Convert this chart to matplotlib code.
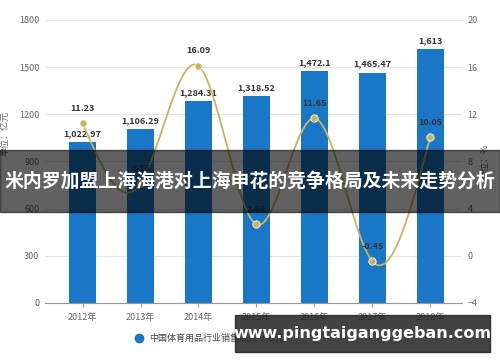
import matplotlib
matplotlib.use("Agg")
import matplotlib.pyplot as plt
import numpy as np
from matplotlib.patches import Rectangle, Circle

plt.rcParams["font.family"] = ["Noto Sans CJK SC", "DejaVu Sans"]

YEARS = ["2012年", "2013年", "2014年", "2015年", "2016年", "2017年", "2018年"]
SALES = [1022.97, 1106.29, 1284.31, 1318.52, 1472.1, 1465.47, 1613]
SALES_LABELS = ["1,022.97", "1,106.29", "1,284.31", "1,318.52", "1,472.1", "1,465.47", "1,613"]
GROWTH = [11.23, 6.15, 16.09, 2.66, 11.65, -0.45, 10.05]
LEFT_TICKS = [0, 300, 600, 900, 1200, 1500, 1800]
RIGHT_TICKS = [-4, 0, 4, 8, 12, 16, 20]
TITLE = "米内罗加盟上海海港对上海申花的竞争格局及未来走势分析"
SITE = "www.pingtaiganggeban.com"
LEGEND = "中国体育用品行业销售收入（亿元）"

BAR_COLOR = "#1a76c6"
LINE_COLOR = "#c9b45c"
GRID = "#e4e4e4"
TICK = "#666666"


def natural_spline(x, y, n=300):
    x = np.asarray(x, float)
    y = np.asarray(y, float)
    k = len(x)
    h = np.diff(x)
    a = np.zeros((k, k))
    b = np.zeros(k)
    a[0, 0] = a[-1, -1] = 1
    for i in range(1, k - 1):
        a[i, i - 1] = h[i - 1]
        a[i, i] = 2 * (h[i - 1] + h[i])
        a[i, i + 1] = h[i]
        b[i] = 3 * ((y[i + 1] - y[i]) / h[i] - (y[i] - y[i - 1]) / h[i - 1])
    c = np.linalg.solve(a, b)
    xs = np.linspace(x[0], x[-1], n)
    ys = np.empty_like(xs)
    for j, xv in enumerate(xs):
        i = min(np.searchsorted(x, xv, side="right") - 1, k - 2)
        d = xv - x[i]
        bi = (y[i + 1] - y[i]) / h[i] - h[i] * (2 * c[i] + c[i + 1]) / 3
        di = (c[i + 1] - c[i]) / (3 * h[i])
        ys[j] = y[i] + bi * d + c[i] * d ** 2 + di * d ** 3
    return xs, ys


fig = plt.figure(figsize=(5, 3.62), dpi=100)
ax = fig.add_axes([0.09, 0.163, 0.834, 0.782])
x = np.arange(len(YEARS))

ax.bar(x, SALES, width=0.47, color=BAR_COLOR, zorder=2)
for xi, v, lab in zip(x, SALES, SALES_LABELS):
    ax.text(xi, v + 25, lab, ha="center", va="bottom", fontsize=6.5,
            fontweight="bold", color="#333333", zorder=5)

ax.set_xlim(-0.65, 6.55)
ax.set_ylim(0, 1800)
ax.set_yticks(LEFT_TICKS)
ax.set_xticks(x)
ax.set_xticklabels(YEARS)
ax.tick_params(axis="both", colors=TICK, labelsize=6.5, length=0, pad=4)
ax.tick_params(axis="x", length=3, color="#999999")
ax.grid(axis="y", color=GRID, linewidth=0.8, zorder=0)
for s in ["top", "right", "left"]:
    ax.spines[s].set_visible(False)
ax.spines["bottom"].set_color("#999999")
ax.set_ylabel("单位：亿元", fontsize=6.5, color=TICK, labelpad=2)
ax.yaxis.set_label_coords(-0.085, 0.6)

ax2 = ax.twinx()
ax2.set_ylim(-4, 20)
ax2.set_yticks(RIGHT_TICKS)
ax2.tick_params(axis="y", colors=TICK, labelsize=6.5, length=0, pad=4)
for s in ax2.spines.values():
    s.set_visible(False)
ax2.set_ylabel("单位：%", fontsize=6.5, color=TICK, labelpad=2)

xs, ys = natural_spline(x, GROWTH)
ax2.plot(xs, ys, color=LINE_COLOR, linewidth=1.3, zorder=3)
ax2.scatter(x, GROWTH, s=28, color=LINE_COLOR, edgecolor="white", linewidth=0.6, zorder=4)
for xi, v in zip(x, GROWTH):
    ax2.text(xi, v + 0.9, f"{v:.2f}", ha="center", va="bottom", fontsize=6.5,
             fontweight="bold", color="#333333", zorder=5)

# legend at bottom
ax.plot([0.277], [0.067], "o", transform=fig.transFigure, color=BAR_COLOR,
        markersize=6, clip_on=False)
fig.text(0.298, 0.067, LEGEND, fontsize=6.5, color="#444444", va="center")

# dark title banner
fig.patches.append(Rectangle((0, 0.414), 1, 0.171, transform=fig.transFigure,
                             color="black", alpha=0.62, figure=fig, zorder=10))
fig.text(0.5, 0.5, TITLE, ha="center", va="center", fontsize=13.6,
         fontweight="bold", color="white", zorder=11)

# site banner
fig.patches.append(Rectangle((0.47, 0.028), 0.51, 0.102, transform=fig.transFigure,
                             color="#222222", alpha=0.85, figure=fig, zorder=10))
fig.text(0.725, 0.079, SITE, ha="center", va="center", fontsize=11.5,
         fontweight="bold", color="white", family=["DejaVu Sans"], zorder=11)

fig.savefig("out.png", dpi=100)
